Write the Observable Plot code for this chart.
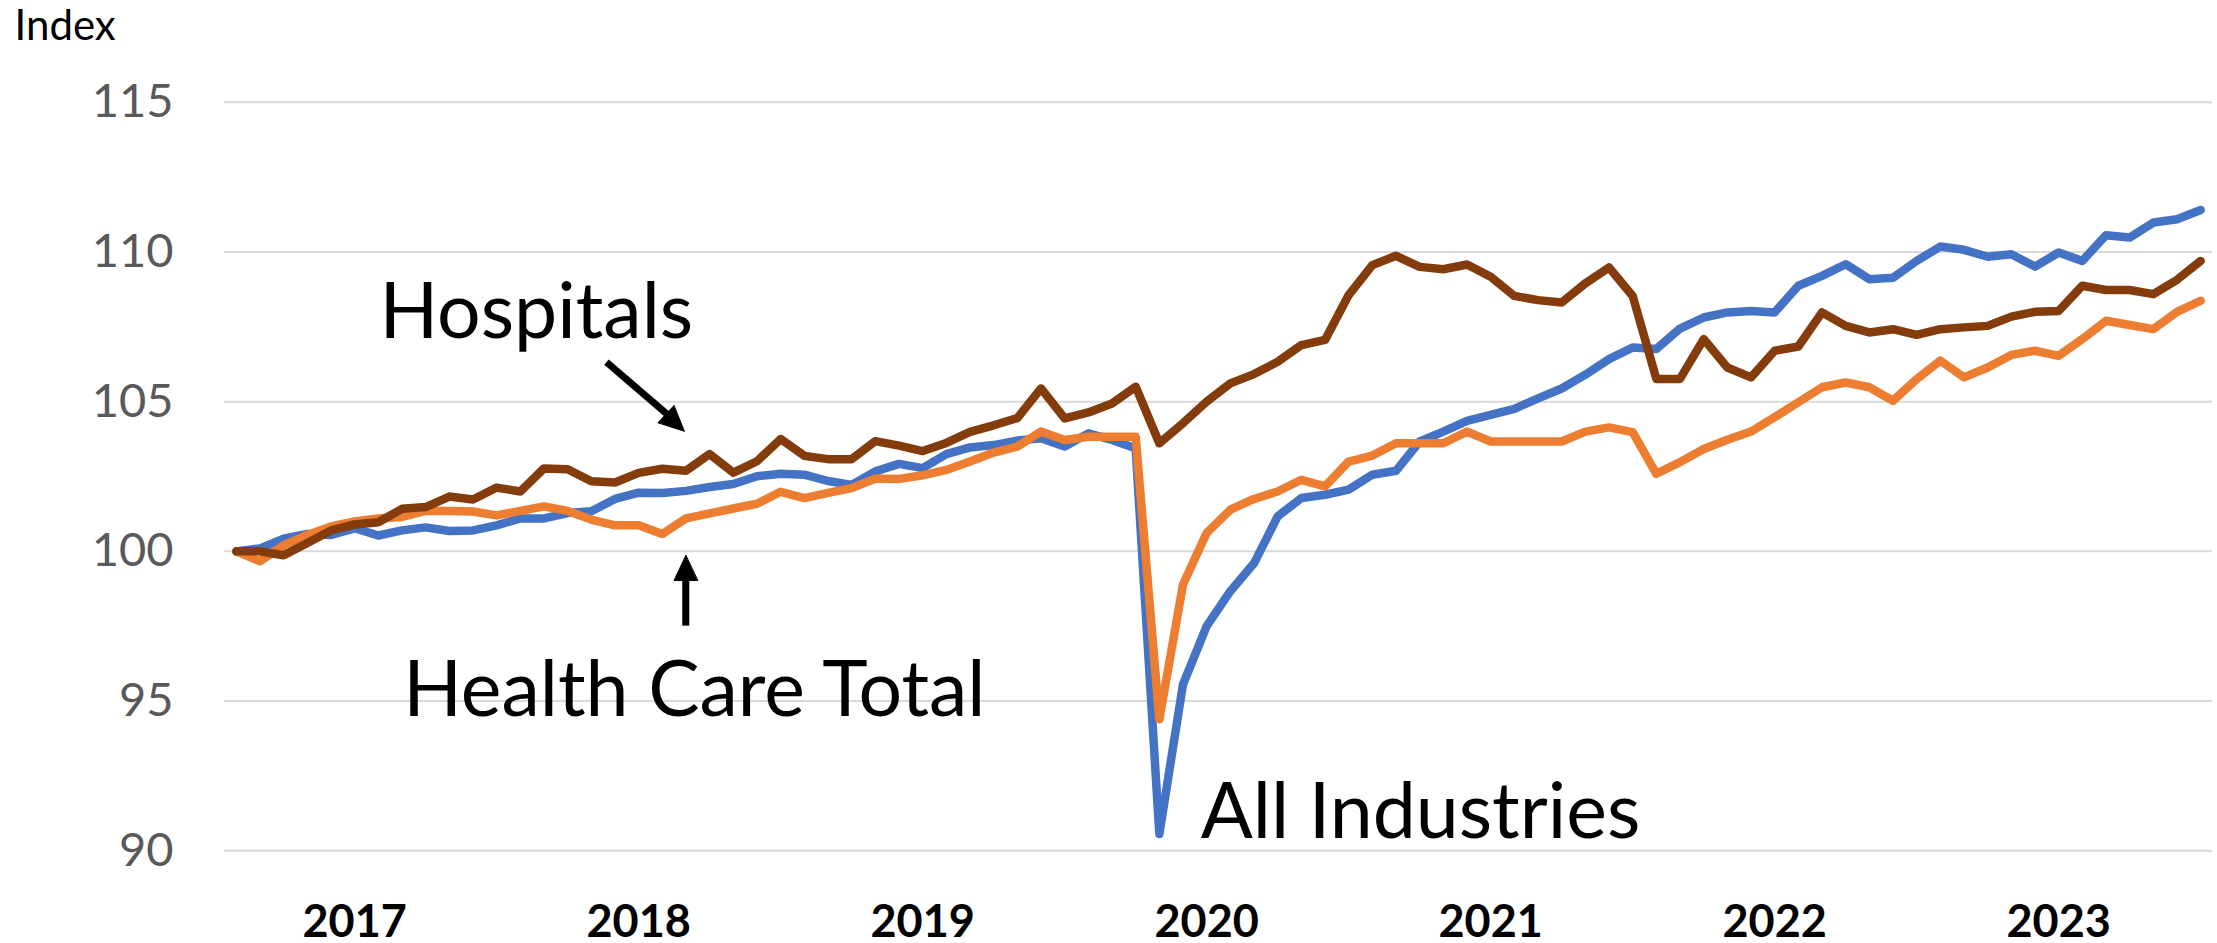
<!DOCTYPE html>
<html>
<head>
<meta charset="utf-8">
<script src="https://cdn.jsdelivr.net/npm/d3@7"></script>
<script src="https://cdn.jsdelivr.net/npm/@observablehq/plot@0.6"></script>
<style>
  html, body { margin: 0; padding: 0; background: #fff; }
  #chart { width: 2217px; height: 943px; }
  #chart svg { font-family: Lato, "Open Sans", sans-serif; }
  #chart [aria-label="y-axis tick label"] { color: #595959; fill: #595959; }
  #chart [aria-label="x-axis tick label"] { font-weight: bold; color: #000; fill: #000; }
</style>
</head>
<body>
<div id="chart"></div>
<script>
// ---- categories (monthly, Jan 2017 – Dec 2023) ----
const years = ["2017", "2018", "2019", "2020", "2021", "2022", "2023"];
const monthNums = ["01","02","03","04","05","06","07","08","09","10","11","12"];
const months = years.flatMap(y => monthNums.map(m => `${y}-${m}`));

// ---- tick labels ----
const yearLabels = ["2017", "2018", "2019", "2020", "2021", "2022", "2023"];
const yTicks = [90, 95, 100, 105, 110, 115];
const yAxisTitle = "Index";

// ---- series ----
const seriesNames = ["All Industries", "Health Care Total", "Hospitals"];

const allIndustries = [
  100.0, 100.1, 100.42, 100.58, 100.55, 100.77, 100.53, 100.7, 100.8, 100.68, 100.7, 100.87,
  101.1, 101.1, 101.28, 101.34, 101.75, 101.96, 101.95, 102.02, 102.15, 102.25, 102.51, 102.59,
  102.56, 102.35, 102.22, 102.67, 102.92, 102.78, 103.25, 103.47, 103.55, 103.7, 103.78, 103.5,
  103.94, 103.72, 103.44, 90.56, 95.56, 97.5, 98.67, 99.6, 101.17, 101.78, 101.89, 102.06,
  102.56, 102.69, 103.67, 104.0, 104.36, 104.56, 104.76, 105.11, 105.44, 105.9, 106.42, 106.81,
  106.76, 107.44, 107.81, 107.98, 108.03, 107.98, 108.87, 109.2, 109.59, 109.09, 109.14, 109.7,
  110.18, 110.07, 109.84, 109.92, 109.51, 109.98, 109.7, 110.56, 110.48, 110.98, 111.09, 111.4
];

const healthCareTotal = [
  100.0, 99.67, 100.2, 100.55, 100.83, 101.0, 101.1, 101.15, 101.35, 101.35, 101.33, 101.2,
  101.35, 101.5, 101.35, 101.06, 100.87, 100.87, 100.58, 101.1, 101.27, 101.43, 101.59, 101.99,
  101.78, 101.95, 102.11, 102.43, 102.42, 102.54, 102.72, 103.0, 103.3, 103.5, 104.0, 103.72,
  103.83, 103.83, 103.83, 94.39, 98.89, 100.61, 101.39, 101.75, 102.0, 102.39, 102.17, 103.0,
  103.2, 103.61, 103.61, 103.61, 104.0, 103.67, 103.67, 103.67, 103.67, 104.0, 104.14, 103.98,
  102.59, 102.98, 103.42, 103.73, 104.0, 104.48, 104.98, 105.48, 105.64, 105.48, 105.03, 105.75,
  106.37, 105.81, 106.14, 106.56, 106.7, 106.53, 107.09, 107.7, 107.56, 107.42, 108.0, 108.37
];

const hospitals = [
  100.0, 100.0, 99.87, 100.28, 100.7, 100.9, 100.97, 101.42, 101.48, 101.83, 101.73, 102.13,
  102.0, 102.77, 102.74, 102.34, 102.3, 102.62, 102.76, 102.69, 103.25, 102.63, 103.01, 103.75,
  103.19, 103.08, 103.08, 103.68, 103.53, 103.35, 103.62, 103.99, 104.21, 104.45, 105.44, 104.44,
  104.64, 104.94, 105.5, 103.61, 104.28, 105.0, 105.61, 105.92, 106.33, 106.89, 107.06, 108.56,
  109.56, 109.87, 109.5, 109.42, 109.58, 109.17, 108.53, 108.39, 108.31, 108.95, 109.48, 108.53,
  105.76, 105.76, 107.09, 106.14, 105.81, 106.7, 106.84, 107.98, 107.53, 107.31, 107.42, 107.23,
  107.42, 107.48, 107.53, 107.84, 108.0, 108.03, 108.87, 108.73, 108.73, 108.59, 109.07, 109.7
];

// ---- build table for the library ----
const seriesValues = [allIndustries, healthCareTotal, hospitals];
const table = seriesNames.flatMap((name, s) =>
  seriesValues[s].map((v, i) => ({ series: name, i, month: months[i], value: v }))
);

// year tick positions: labels sit under June of each year
const yearTicks = yearLabels.map(y => months.indexOf(`${y}-06`));

// annotation placement (data coordinates: month index, index value)
const labels = [
  { text: "Hospitals", x: 6.05, y: 107.12 },
  { text: "Health Care Total", x: 7.05, y: 94.5 },
  { text: "All Industries", x: 40.75, y: 90.42 }
];
const arrowShafts = [
  { x1: 15.64, y1: 106.32, x2: 18.26, y2: 104.54 },
  { x1: 18.99, y1: 97.52, x2: 18.99, y2: 99.09 }
];
const arrowHeads = [
  { x: 18.93, y: 104.01, angle: 133 },
  { x: 18.99, y: 99.86, angle: 0 }
];

const triangleHead = {
  draw(context, l) {
    const w = l * 0.47;
    context.moveTo(0, -l);
    context.lineTo(-w, 0);
    context.lineTo(w, 0);
    context.closePath();
  }
};

const chart = Plot.plot({
  width: 2217,
  height: 943,
  marginLeft: 224,
  marginRight: 5,
  marginTop: 101.7,
  marginBottom: 92.7,
  style: { fontFamily: "Lato, 'Open Sans', sans-serif", background: "#fff", overflow: "visible" },
  x: { type: "linear", domain: [-0.5, months.length - 0.5] },
  y: { domain: [90, 115] },
  color: { domain: seriesNames, range: ["#4472C4", "#ED7D31", "#843C0C"] },
  marks: [
    Plot.ruleY(yTicks, { stroke: "#d9d9d9", strokeWidth: 2 }),
    Plot.axisY({
      ticks: yTicks, tickSize: 0, tickPadding: 51, fontSize: 47,
      fill: "#595959", label: null
    }),
    Plot.axisX({
      ticks: yearTicks, tickSize: 0, tickPadding: 54, fontSize: 45, fontWeight: "bold",
      tickFormat: i => yearLabels[yearTicks.indexOf(i)], label: null, fill: "#000"
    }),
    Plot.text([yAxisTitle], {
      frameAnchor: "top-left", text: d => d, textAnchor: "start", lineAnchor: "bottom",
      dx: -210, dy: -62, fontSize: 42, fill: "#000"
    }),
    Plot.line(table, {
      x: "i", y: "value", z: "series", stroke: "series",
      strokeWidth: 8.5, strokeLinejoin: "round", strokeLinecap: "round"
    }),
    Plot.link(arrowShafts, {
      x1: "x1", y1: "y1", x2: "x2", y2: "y2", stroke: "#000", strokeWidth: 7
    }),
    Plot.vector(arrowHeads, {
      x: "x", y: "y", rotate: "angle", length: 25, anchor: "end",
      shape: triangleHead, fill: "#000", stroke: "#000", strokeWidth: 1
    }),
    Plot.text(labels, {
      x: "x", y: "y", text: "text", textAnchor: "start", lineAnchor: "bottom",
      fontSize: 77, fill: "#000"
    })
  ]
});

document.getElementById("chart").appendChild(chart);
</script>
</body>
</html>
